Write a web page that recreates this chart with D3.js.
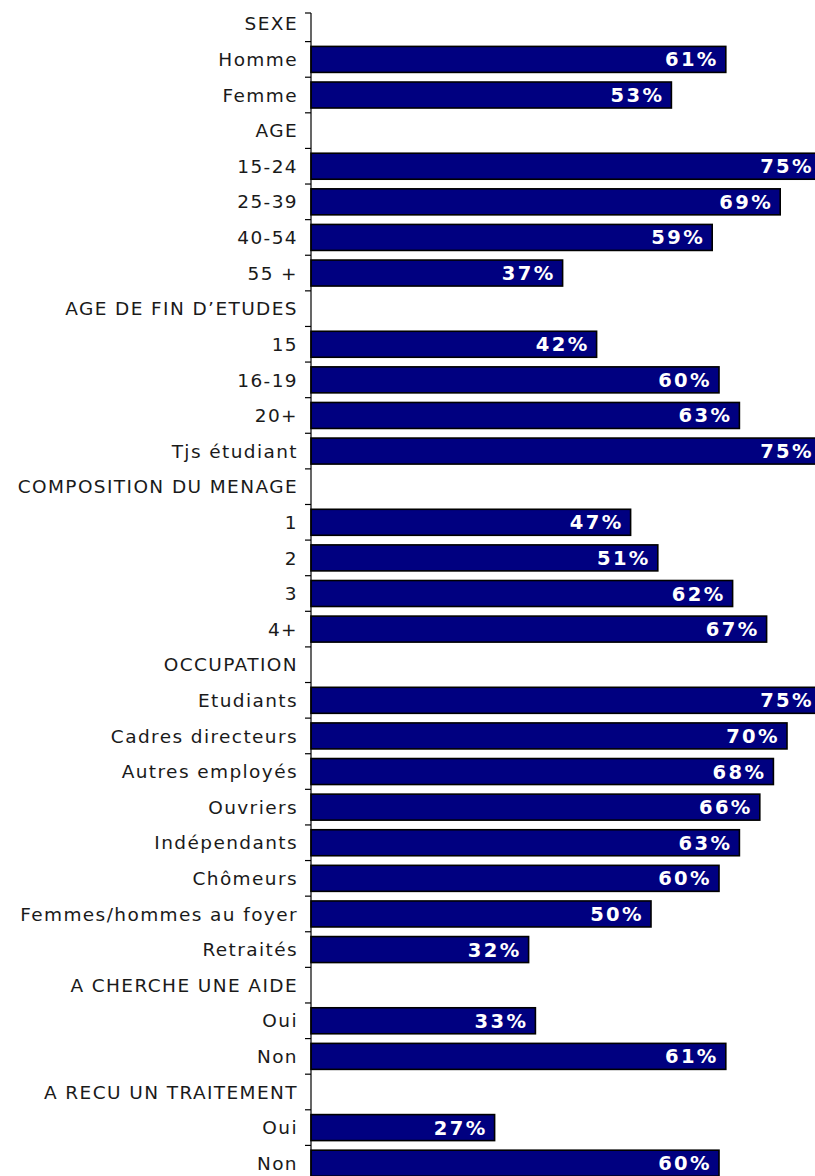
<!DOCTYPE html>
<html>
<head>
<meta charset="utf-8">
<script src="https://cdn.jsdelivr.net/npm/d3@7"></script>
<style>
  html, body { margin: 0; padding: 0; background: #fff; }
  svg { display: block; }
</style>
</head>
<body>
<svg id="chart" width="815" height="1176"></svg>
<script>
// Row labels, top to bottom; section headers have no value.
const labels = [
  "SEXE", "Homme", "Femme",
  "AGE", "15-24", "25-39", "40-54", "55 +",
  "AGE DE FIN D\u2019ETUDES", "15", "16-19", "20+", "Tjs étudiant",
  "COMPOSITION DU MENAGE", "1", "2", "3", "4+",
  "OCCUPATION", "Etudiants", "Cadres directeurs", "Autres employés", "Ouvriers",
  "Indépendants", "Chômeurs", "Femmes/hommes au foyer", "Retraités",
  "A CHERCHE UNE AIDE", "Oui", "Non",
  "A RECU UN TRAITEMENT", "Oui", "Non"
];
// Share (%) for each row; null marks a section header.
const values = [
  null, 61, 53,
  null, 75, 69, 59, 37,
  null, 42, 60, 63, 75,
  null, 47, 51, 62, 67,
  null, 75, 70, 68, 66, 63, 60, 50, 32,
  null, 33, 61,
  null, 27, 60
];

const rows = labels.map((label, i) => ({ id: i, label, value: values[i] }));

const svg = d3.select("#chart");
const H = 1176;

const x = d3.scaleLinear().domain([0, 75]).range([311, 821]);
const y = d3.scaleBand()
  .domain(rows.map(d => d.id))
  .range([6, 1181])
  .paddingInner(0.27)
  .paddingOuter(0.135);

const step = y.step();
const bandTop = i => y(i) - (step - y.bandwidth()) / 2;

// Bars
svg.append("g")
  .selectAll("rect")
  .data(rows.filter(d => d.value !== null))
  .join("rect")
  .attr("x", x(0))
  .attr("y", d => y(d.id))
  .attr("width", d => x(d.value) - x(0))
  .attr("height", y.bandwidth())
  .attr("fill", "#000080")
  .attr("stroke", "#000")
  .attr("stroke-width", 1.6);

// Axis line with tick marks at band boundaries
const axis = svg.append("g").attr("stroke", "#000").attr("stroke-width", 1.2);
axis.append("line")
  .attr("x1", x(0)).attr("x2", x(0))
  .attr("y1", 13).attr("y2", H);
const tickYs = [13].concat(d3.range(1, rows.length).map(i => bandTop(i)));
axis.selectAll("line.tick")
  .data(tickYs)
  .join("line")
  .attr("class", "tick")
  .attr("x1", x(0) - 6).attr("x2", x(0))
  .attr("y1", d => d).attr("y2", d => d);

// Category labels
svg.append("g")
  .selectAll("text")
  .data(rows)
  .join("text")
  .attr("x", 298)
  .attr("y", d => y(d.id) + y.bandwidth() / 2)
  .attr("dy", "0.36em")
  .attr("text-anchor", "end")
  .attr("font-family", "DejaVu Sans, Verdana, sans-serif")
  .attr("font-size", 18.5)
  .attr("letter-spacing", 1.4)
  .attr("fill", "#1a1a1a")
  .text(d => d.label);

// Value labels inside the bars
svg.append("g")
  .selectAll("text")
  .data(rows.filter(d => d.value !== null))
  .join("text")
  .attr("x", d => x(d.value) - 7)
  .attr("y", d => y(d.id) + y.bandwidth() / 2)
  .attr("dy", "0.36em")
  .attr("text-anchor", "end")
  .attr("font-family", "DejaVu Sans, Verdana, sans-serif")
  .attr("font-weight", "bold")
  .attr("font-size", 19.5)
  .attr("letter-spacing", 2.4)
  .attr("fill", "#fff")
  .text(d => d.value + "%");
</script>
</body>
</html>
